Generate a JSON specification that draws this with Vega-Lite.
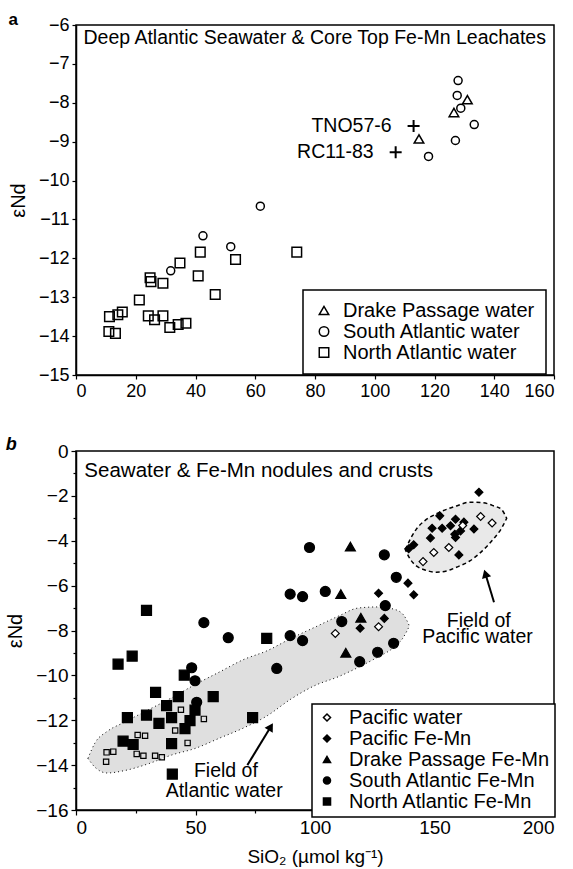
{
  "$schema": "https://vega.github.io/schema/vega-lite/v6.json",
  "background": "white",
  "padding": {"left": 5, "top": 10, "right": 8, "bottom": 0},
  "config": {
    "font": "Liberation Sans",
    "view": {"stroke": "black", "strokeWidth": 1.5},
    "axis": {"labelFont": "Liberation Sans", "labelColor": "black", "titleColor": "black", "titleFont": "Liberation Sans", "titleFontWeight": "normal", "domainColor": "black", "domainWidth": 1.5, "tickColor": "black", "tickWidth": 1.2, "grid": false},
    "legend": {"labelFont": "Liberation Sans", "labelColor": "black", "strokeColor": "black", "strokeWidth": 1.5, "fillColor": "white", "labelLimit": 0},
    "title": {"font": "Liberation Sans", "color": "black"},
    "text": {"font": "Liberation Sans", "color": "black"}
  },
  "resolve": {"scale": {"shape": "independent", "fill": "independent"}},
  "datasets": {
    "aPts": [
      {"type": "Drake Passage water", "x": 131, "y": -7.92},
      {"type": "Drake Passage water", "x": 126.5, "y": -8.25},
      {"type": "Drake Passage water", "x": 114.8, "y": -8.93},
      {"type": "South Atlantic water", "x": 127.9, "y": -7.43},
      {"type": "South Atlantic water", "x": 127.6, "y": -7.81},
      {"type": "South Atlantic water", "x": 128.8, "y": -8.14},
      {"type": "South Atlantic water", "x": 133.3, "y": -8.56},
      {"type": "South Atlantic water", "x": 127, "y": -8.97},
      {"type": "South Atlantic water", "x": 118, "y": -9.38},
      {"type": "South Atlantic water", "x": 61.7, "y": -10.66},
      {"type": "South Atlantic water", "x": 42.5, "y": -11.42},
      {"type": "South Atlantic water", "x": 51.8, "y": -11.7},
      {"type": "South Atlantic water", "x": 31.7, "y": -12.32},
      {"type": "North Atlantic water", "x": 41.6, "y": -11.84},
      {"type": "North Atlantic water", "x": 73.9, "y": -11.84},
      {"type": "North Atlantic water", "x": 53.4, "y": -12.03},
      {"type": "North Atlantic water", "x": 34.8, "y": -12.12},
      {"type": "North Atlantic water", "x": 40.9, "y": -12.45},
      {"type": "North Atlantic water", "x": 24.8, "y": -12.5},
      {"type": "North Atlantic water", "x": 25.1, "y": -12.6},
      {"type": "North Atlantic water", "x": 29.1, "y": -12.64},
      {"type": "North Atlantic water", "x": 46.6, "y": -12.93},
      {"type": "North Atlantic water", "x": 21.2, "y": -13.07},
      {"type": "North Atlantic water", "x": 15.5, "y": -13.38},
      {"type": "North Atlantic water", "x": 14.0, "y": -13.45},
      {"type": "North Atlantic water", "x": 11.2, "y": -13.5},
      {"type": "North Atlantic water", "x": 24.2, "y": -13.48},
      {"type": "North Atlantic water", "x": 26.3, "y": -13.58},
      {"type": "North Atlantic water", "x": 29.1, "y": -13.48},
      {"type": "North Atlantic water", "x": 31.4, "y": -13.78},
      {"type": "North Atlantic water", "x": 34.2, "y": -13.7},
      {"type": "North Atlantic water", "x": 36.8, "y": -13.67},
      {"type": "North Atlantic water", "x": 11.0, "y": -13.88},
      {"type": "North Atlantic water", "x": 13.2, "y": -13.93}
    ],
    "aCross": [
      {"label": "TNO57-6", "x": 113, "y": -8.6},
      {"label": "RC11-83", "x": 107, "y": -9.27}
    ],
    "aTitle": [
      {"label": "Deep Atlantic Seawater & Core Top Fe-Mn Leachates", "x": 2.5, "y": -6.33}
    ],
    "bPts": [
      {"type": "North Atlantic Fe-Mn", "x": 17.6, "y": -9.5},
      {"type": "North Atlantic Fe-Mn", "x": 23.5, "y": -9.14},
      {"type": "North Atlantic Fe-Mn", "x": 45.3, "y": -9.99},
      {"type": "North Atlantic Fe-Mn", "x": 33.3, "y": -10.76},
      {"type": "North Atlantic Fe-Mn", "x": 42.8, "y": -10.95},
      {"type": "North Atlantic Fe-Mn", "x": 57.4, "y": -10.95},
      {"type": "North Atlantic Fe-Mn", "x": 37.9, "y": -11.35},
      {"type": "North Atlantic Fe-Mn", "x": 49.8, "y": -11.55},
      {"type": "North Atlantic Fe-Mn", "x": 21.5, "y": -11.88},
      {"type": "North Atlantic Fe-Mn", "x": 29.5, "y": -11.77},
      {"type": "North Atlantic Fe-Mn", "x": 40, "y": -11.88},
      {"type": "North Atlantic Fe-Mn", "x": 34.7, "y": -12.14},
      {"type": "North Atlantic Fe-Mn", "x": 47.7, "y": -12.02},
      {"type": "North Atlantic Fe-Mn", "x": 45.6, "y": -12.37},
      {"type": "North Atlantic Fe-Mn", "x": 19.7, "y": -12.93},
      {"type": "North Atlantic Fe-Mn", "x": 23.9, "y": -13.08},
      {"type": "North Atlantic Fe-Mn", "x": 40, "y": -13.04},
      {"type": "North Atlantic Fe-Mn", "x": 40.3, "y": -14.4},
      {"type": "North Atlantic Fe-Mn", "x": 73.9, "y": -11.88},
      {"type": "North Atlantic Fe-Mn", "x": 79.8, "y": -8.35},
      {"type": "North Atlantic Fe-Mn", "x": 29.5, "y": -7.1},
      {"type": "South Atlantic Fe-Mn", "x": 53.5, "y": -7.65},
      {"type": "South Atlantic Fe-Mn", "x": 63.7, "y": -8.32},
      {"type": "South Atlantic Fe-Mn", "x": 48.4, "y": -9.66},
      {"type": "South Atlantic Fe-Mn", "x": 49.8, "y": -10.24},
      {"type": "South Atlantic Fe-Mn", "x": 50.5, "y": -11.2},
      {"type": "South Atlantic Fe-Mn", "x": 97.7, "y": -4.3},
      {"type": "South Atlantic Fe-Mn", "x": 129, "y": -4.63},
      {"type": "South Atlantic Fe-Mn", "x": 134, "y": -5.63},
      {"type": "South Atlantic Fe-Mn", "x": 89.6, "y": -6.38},
      {"type": "South Atlantic Fe-Mn", "x": 94.8, "y": -6.49},
      {"type": "South Atlantic Fe-Mn", "x": 104.3, "y": -6.26},
      {"type": "South Atlantic Fe-Mn", "x": 129.4, "y": -6.89},
      {"type": "South Atlantic Fe-Mn", "x": 111.2, "y": -7.6},
      {"type": "South Atlantic Fe-Mn", "x": 89.6, "y": -8.23},
      {"type": "South Atlantic Fe-Mn", "x": 94.8, "y": -8.45},
      {"type": "South Atlantic Fe-Mn", "x": 84, "y": -9.69},
      {"type": "South Atlantic Fe-Mn", "x": 118.7, "y": -9.39},
      {"type": "South Atlantic Fe-Mn", "x": 126.2, "y": -8.97},
      {"type": "South Atlantic Fe-Mn", "x": 132.9, "y": -8.57},
      {"type": "Drake Passage Fe-Mn", "x": 114.8, "y": -4.26},
      {"type": "Drake Passage Fe-Mn", "x": 110.8, "y": -6.38},
      {"type": "Drake Passage Fe-Mn", "x": 119.2, "y": -7.43},
      {"type": "Drake Passage Fe-Mn", "x": 112.9, "y": -8.99},
      {"type": "Pacific Fe-Mn", "x": 168.6, "y": -1.84},
      {"type": "Pacific Fe-Mn", "x": 152.2, "y": -2.89},
      {"type": "Pacific Fe-Mn", "x": 158.8, "y": -3.04},
      {"type": "Pacific Fe-Mn", "x": 149, "y": -3.44},
      {"type": "Pacific Fe-Mn", "x": 156.7, "y": -3.33},
      {"type": "Pacific Fe-Mn", "x": 162.3, "y": -3.17},
      {"type": "Pacific Fe-Mn", "x": 166.5, "y": -3.48},
      {"type": "Pacific Fe-Mn", "x": 153.2, "y": -3.44},
      {"type": "Pacific Fe-Mn", "x": 158.5, "y": -3.71},
      {"type": "Pacific Fe-Mn", "x": 160.9, "y": -3.56},
      {"type": "Pacific Fe-Mn", "x": 148.3, "y": -3.88},
      {"type": "Pacific Fe-Mn", "x": 141.3, "y": -4.18},
      {"type": "Pacific Fe-Mn", "x": 158.8, "y": -3.85},
      {"type": "Pacific Fe-Mn", "x": 160.2, "y": -4.63},
      {"type": "Pacific Fe-Mn", "x": 139.2, "y": -4.36},
      {"type": "Pacific Fe-Mn", "x": 138.9, "y": -5.89},
      {"type": "Pacific Fe-Mn", "x": 141.3, "y": -6.41},
      {"type": "Pacific Fe-Mn", "x": 126.6, "y": -6.34},
      {"type": "Pacific Fe-Mn", "x": 129, "y": -7.46},
      {"type": "Pacific Fe-Mn", "x": 118.9, "y": -7.9},
      {"type": "Pacific water", "x": 169.3, "y": -2.92},
      {"type": "Pacific water", "x": 174.1, "y": -3.21},
      {"type": "Pacific water", "x": 161.8, "y": -3.32},
      {"type": "Pacific water", "x": 156, "y": -4.3},
      {"type": "Pacific water", "x": 149.7, "y": -4.52},
      {"type": "Pacific water", "x": 145.2, "y": -4.93},
      {"type": "Pacific water", "x": 108.5, "y": -8.13},
      {"type": "Pacific water", "x": 126.6, "y": -7.83}
    ],
    "bSw": [
      {"x": 12.8, "y": -13.43}, {"x": 15.6, "y": -13.4}, {"x": 12.6, "y": -13.85},
      {"x": 25.8, "y": -12.66}, {"x": 28.9, "y": -12.69}, {"x": 41.5, "y": -12.46},
      {"x": 33.1, "y": -13.58}, {"x": 35.9, "y": -13.65}, {"x": 28.2, "y": -13.58},
      {"x": 25.4, "y": -13.5}, {"x": 46.7, "y": -13.01}, {"x": 43.9, "y": -11.53},
      {"x": 53.5, "y": -11.94}
    ],
    "atlField": [
      {"x": 5, "y": -13.7, "y2": -13.7},
      {"x": 8, "y": -13.0, "y2": -14.1},
      {"x": 13, "y": -12.5, "y2": -14.35},
      {"x": 20, "y": -12.1, "y2": -14.25},
      {"x": 30, "y": -11.55, "y2": -13.95},
      {"x": 40, "y": -11.0, "y2": -13.55},
      {"x": 50, "y": -10.4, "y2": -13.25},
      {"x": 60, "y": -9.85, "y2": -12.8},
      {"x": 70, "y": -9.3, "y2": -12.35},
      {"x": 80, "y": -8.9, "y2": -11.8},
      {"x": 90, "y": -8.35, "y2": -11.05},
      {"x": 100, "y": -7.85, "y2": -10.45},
      {"x": 110, "y": -7.35, "y2": -10.05},
      {"x": 118, "y": -7.0, "y2": -9.65},
      {"x": 126, "y": -6.95, "y2": -9.2},
      {"x": 133, "y": -7.05, "y2": -8.75},
      {"x": 137, "y": -7.3, "y2": -8.3},
      {"x": 139.5, "y": -7.8, "y2": -7.8}
    ],
    "pacField": [
      {"x": 137.8, "y": -4.4, "y2": -4.4},
      {"x": 140, "y": -3.9, "y2": -4.85},
      {"x": 142.4, "y": -3.48, "y2": -5.12},
      {"x": 146, "y": -3.1, "y2": -5.3},
      {"x": 150.8, "y": -2.8, "y2": -5.4},
      {"x": 155, "y": -2.6, "y2": -5.35},
      {"x": 159.2, "y": -2.45, "y2": -5.18},
      {"x": 164.8, "y": -2.28, "y2": -4.9},
      {"x": 170, "y": -2.3, "y2": -4.45},
      {"x": 174.6, "y": -2.44, "y2": -3.93},
      {"x": 178, "y": -2.6, "y2": -3.45},
      {"x": 180.2, "y": -3.0, "y2": -3.0}
    ],
    "bTitle": [
      {"label": "Seawater & Fe-Mn nodules and crusts", "x": 3.5, "y": -0.88}
    ],
    "bNotes": [
      {"label": "Field of", "x": 168.5, "y": -7.56},
      {"label": "Pacific water", "x": 168, "y": -8.3},
      {"label": "Field of", "x": 62.7, "y": -14.26},
      {"label": "Atlantic water", "x": 62, "y": -15.15}
    ],
    "arrows": [
      {"name": "atl", "x": 71.7, "y": -14.0, "x2": 81.5, "y2": -12.29},
      {"name": "pac", "x": 174.9, "y": -6.74, "x2": 171.3, "y2": -5.47}
    ],
    "heads": [
      {"name": "atl", "x": 81.5, "y": -12.29},
      {"name": "pac", "x": 171.3, "y": -5.47}
    ]
  },
  "spacing": 34,
  "vconcat": [
    {
      "width": 478,
      "height": 350,
      "title": {"text": "a", "anchor": "start", "frame": "bounds", "fontSize": 17, "fontWeight": "bold", "baseline": "bottom", "offset": -30},
      "encoding": {
        "x": {"field": "x", "type": "quantitative", "title": null, "scale": {"domain": [0, 160], "nice": false, "zero": false},
              "axis": {"values": [0, 20, 40, 60, 80, 100, 120, 140, 160], "labelFontSize": 18, "tickSize": 4, "labelPadding": 3, "title": null}},
        "y": {"field": "y", "type": "quantitative", "title": "εNd", "scale": {"domain": [-15, -6], "nice": false, "zero": false},
              "axis": {"values": [-15, -14, -13, -12, -11, -10, -9, -8, -7, -6], "labelFontSize": 18, "tickSize": 4, "labelPadding": 3, "title": "εNd", "titleFontSize": 20, "titlePadding": 10}}
      },
      "layer": [
        {
          "data": {"name": "aPts"},
          "transform": [{"filter": "datum.type !== 'South Atlantic water'"}],
          "mark": {"type": "point", "filled": false, "color": "black", "strokeWidth": 1.5, "opacity": 1, "size": 92},
          "encoding": {
            "shape": {"field": "type", "type": "nominal",
                      "scale": {"domain": ["Drake Passage water", "South Atlantic water", "North Atlantic water"], "range": ["triangle-up", "circle", "square"]},
                      "legend": {"title": null, "orient": "none", "legendX": 227, "legendY": 265, "padding": 11, "labelFontSize": 20, "rowPadding": 0, "clipHeight": 19, "labelOffset": 9, "symbolSize": 90, "symbolStrokeColor": "black", "symbolFillColor": "transparent", "symbolStrokeWidth": 1.5}}
          }
        },
        {
          "data": {"name": "aPts"},
          "transform": [{"filter": "datum.type === 'South Atlantic water'"}],
          "mark": {"type": "point", "filled": false, "color": "black", "strokeWidth": 1.5, "opacity": 1, "size": 64},
          "encoding": {
            "shape": {"field": "type", "type": "nominal",
                      "scale": {"domain": ["Drake Passage water", "South Atlantic water", "North Atlantic water"], "range": ["triangle-up", "circle", "square"]},
                      "legend": {"title": null, "orient": "none", "legendX": 227, "legendY": 265, "padding": 11, "labelFontSize": 20, "rowPadding": 0, "clipHeight": 19, "labelOffset": 9, "symbolSize": 90, "symbolStrokeColor": "black", "symbolFillColor": "transparent", "symbolStrokeWidth": 1.5}}
          }
        },
        {
          "data": {"name": "aCross"},
          "mark": {"type": "point", "shape": "M-1,0H1M0,-1V1", "size": 144, "color": "black", "strokeWidth": 2, "filled": false, "opacity": 1}
        },
        {
          "data": {"name": "aCross"},
          "mark": {"type": "text", "align": "right", "baseline": "middle", "dx": -22, "fontSize": 19.5, "color": "black"},
          "encoding": {"text": {"field": "label"}}
        },
        {
          "data": {"name": "aTitle"},
          "mark": {"type": "text", "align": "left", "baseline": "middle", "fontSize": 19.5, "color": "black"},
          "encoding": {"text": {"field": "label"}}
        }
      ]
    },
    {
      "width": 478,
      "height": 359,
      "title": {"text": "b", "anchor": "start", "frame": "bounds", "fontSize": 18, "fontWeight": "bold", "fontStyle": "italic", "baseline": "bottom", "offset": -30},
      "encoding": {
        "x": {"field": "x", "type": "quantitative", "title": "SiO₂ (µmol kg⁻¹)", "scale": {"domain": [0, 200], "nice": false, "zero": false},
              "axis": {"values": [0, 25, 50, 75, 100, 125, 150, 175, 200], "labelExpr": "datum.value % 50 === 0 ? datum.label : ''",
                       "tickSize": {"condition": {"test": "datum.value % 50 === 0", "value": 5}, "value": 3},
                       "labelFontSize": 19, "labelPadding": 3, "title": "SiO₂ (µmol kg⁻¹)", "titleFontSize": 19, "titlePadding": 10}},
        "y": {"field": "y", "type": "quantitative", "title": "εNd", "scale": {"domain": [-16, 0], "nice": false, "zero": false},
              "axis": {"values": [-16, -15, -14, -13, -12, -11, -10, -9, -8, -7, -6, -5, -4, -3, -2, -1, 0], "labelExpr": "datum.value % 2 === 0 ? datum.label : ''",
                       "tickSize": {"condition": {"test": "datum.value % 2 === 0", "value": 5}, "value": 3},
                       "labelFontSize": 19, "labelPadding": 3, "title": "εNd", "titleFontSize": 20, "titlePadding": 10}}
      },
      "layer": [
        {
          "data": {"name": "atlField"},
          "mark": {"type": "area", "fill": "#c4c4c4", "fillOpacity": 0.55, "stroke": "black", "strokeWidth": 1, "strokeDash": [1, 3], "interpolate": "monotone"},
          "encoding": {"y2": {"field": "y2"}}
        },
        {
          "data": {"name": "pacField"},
          "mark": {"type": "area", "fill": "#cfcfcf", "fillOpacity": 0.45, "stroke": "black", "strokeWidth": 1.5, "strokeDash": [4, 3], "interpolate": "monotone"},
          "encoding": {"y2": {"field": "y2"}}
        },
        {
          "data": {"name": "bSw"},
          "mark": {"type": "point", "shape": "square", "filled": false, "color": "black", "size": 28, "strokeWidth": 1.2, "opacity": 1}
        },
        {
          "data": {"name": "bPts"},
          "transform": [{"filter": "datum.type !== 'Pacific water' && datum.type !== 'Pacific Fe-Mn'"}],
          "mark": {"type": "point", "filled": true, "stroke": "black", "strokeWidth": 1.2, "opacity": 1, "size": 100},
          "encoding": {
            "shape": {"field": "type", "type": "nominal",
                      "scale": {"domain": ["Pacific water", "Pacific Fe-Mn", "Drake Passage Fe-Mn", "South Atlantic Fe-Mn", "North Atlantic Fe-Mn"], "range": ["diamond", "diamond", "triangle-up", "circle", "square"]},
                      "legend": {"title": null, "orient": "none", "legendX": 236, "legendY": 253, "padding": 5, "labelFontSize": 20, "rowPadding": 0, "clipHeight": 17, "labelOffset": 12, "symbolSize": 50,
                                 "encode": {"symbols": {"update": {"stroke": {"value": "black"}, "strokeWidth": {"value": 1.5}}}}}},
            "fill": {"field": "type", "type": "nominal",
                     "scale": {"domain": ["Pacific water", "Pacific Fe-Mn", "Drake Passage Fe-Mn", "South Atlantic Fe-Mn", "North Atlantic Fe-Mn"], "range": ["white", "black", "black", "black", "black"]},
                     "legend": {"title": null, "orient": "none", "legendX": 236, "legendY": 253, "padding": 5, "labelFontSize": 20, "rowPadding": 0, "clipHeight": 17, "labelOffset": 12, "symbolSize": 50,
                                "encode": {"symbols": {"update": {"stroke": {"value": "black"}, "strokeWidth": {"value": 1.5}}}}}}
          }
        },
        {
          "data": {"name": "bPts"},
          "transform": [{"filter": "datum.type === 'Pacific water' || datum.type === 'Pacific Fe-Mn'"}],
          "mark": {"type": "point", "filled": true, "stroke": "black", "strokeWidth": 1.2, "opacity": 1, "size": 62},
          "encoding": {
            "shape": {"field": "type", "type": "nominal",
                      "scale": {"domain": ["Pacific water", "Pacific Fe-Mn", "Drake Passage Fe-Mn", "South Atlantic Fe-Mn", "North Atlantic Fe-Mn"], "range": ["diamond", "diamond", "triangle-up", "circle", "square"]},
                      "legend": {"title": null, "orient": "none", "legendX": 236, "legendY": 253, "padding": 5, "labelFontSize": 20, "rowPadding": 0, "clipHeight": 17, "labelOffset": 12, "symbolSize": 50,
                                 "encode": {"symbols": {"update": {"stroke": {"value": "black"}, "strokeWidth": {"value": 1.5}}}}}},
            "fill": {"field": "type", "type": "nominal",
                     "scale": {"domain": ["Pacific water", "Pacific Fe-Mn", "Drake Passage Fe-Mn", "South Atlantic Fe-Mn", "North Atlantic Fe-Mn"], "range": ["white", "black", "black", "black", "black"]},
                     "legend": {"title": null, "orient": "none", "legendX": 236, "legendY": 253, "padding": 5, "labelFontSize": 20, "rowPadding": 0, "clipHeight": 17, "labelOffset": 12, "symbolSize": 50,
                                "encode": {"symbols": {"update": {"stroke": {"value": "black"}, "strokeWidth": {"value": 1.5}}}}}}
          }
        },
        {
          "data": {"name": "bTitle"},
          "mark": {"type": "text", "align": "left", "baseline": "middle", "fontSize": 20.5, "color": "black"},
          "encoding": {"text": {"field": "label"}}
        },
        {
          "data": {"name": "bNotes"},
          "mark": {"type": "text", "align": "center", "baseline": "middle", "fontSize": 19.5, "color": "black"},
          "encoding": {"text": {"field": "label"}}
        },
        {
          "data": {"name": "arrows"},
          "mark": {"type": "rule", "color": "black", "strokeWidth": 2},
          "encoding": {"x2": {"field": "x2"}, "y2": {"field": "y2"}}
        },
        {
          "data": {"name": "heads"},
          "transform": [{"filter": "datum.name === 'atl'"}],
          "mark": {"type": "point", "shape": "triangle-up", "angle": 31, "size": 90, "filled": true, "color": "black", "opacity": 1}
        },
        {
          "data": {"name": "heads"},
          "transform": [{"filter": "datum.name === 'pac'"}],
          "mark": {"type": "point", "shape": "triangle-up", "angle": -17, "size": 90, "filled": true, "color": "black", "opacity": 1}
        }
      ]
    }
  ]
}
